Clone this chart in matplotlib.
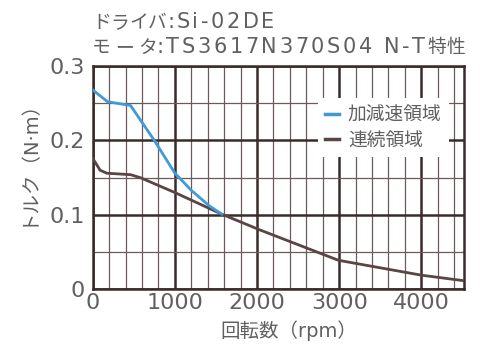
import matplotlib
matplotlib.use("Agg")
import matplotlib.pyplot as plt
from matplotlib.ticker import MultipleLocator
from matplotlib import ft2font
from matplotlib.font_manager import FontProperties, findfont

plt.rcParams['font.family'] = ['DejaVu Sans', 'Noto Sans CJK JP']

# Acceleration / deceleration region (rpm, N·m)
accel_rpm = [0, 180, 460, 750, 1000, 1200, 1420, 1570]
accel_torque = [0.268, 0.252, 0.247, 0.200, 0.156, 0.133, 0.112, 0.101]

# Continuous region (rpm, N·m)
cont_rpm = [0, 90, 170, 460, 580, 1000, 1570, 2030, 2990, 4000, 4520]
cont_torque = [0.176, 0.160, 0.156, 0.154, 0.150, 0.130, 0.101, 0.080, 0.039, 0.019, 0.0115]

x_ticks = [0, 1000, 2000, 3000, 4000]
y_ticks = [0, 0.1, 0.2, 0.3]
y_tick_labels = ["0", "0.1", "0.2", "0.3"]

series_labels = ["加減速領域", "連続領域"]
x_label = "回転数（rpm）"
y_label = "トルク（N·m）"

text_color = "#606060"
grid_color = "#3a2a2a"

W, H, DPI = 488, 345, 100
fig = plt.figure(figsize=(W / DPI, H / DPI), dpi=DPI)
ax = fig.add_axes([0.19, 0.1614, 0.761, 0.6473])

ax.plot(accel_rpm, accel_torque, color="#3f9ad8", lw=2.0, label=series_labels[0], zorder=4)
ax.plot(cont_rpm, cont_torque, color="#5a4444", lw=2.0, label=series_labels[1], zorder=3)

ax.set_xlim(0, 4520)
ax.set_ylim(0, 0.3)
ax.set_xticks(x_ticks)
ax.set_yticks(y_ticks)
ax.set_yticklabels(y_tick_labels)
ax.xaxis.set_minor_locator(MultipleLocator(200))
ax.yaxis.set_minor_locator(MultipleLocator(0.05))
ax.grid(which="major", color=grid_color, lw=1.8, zorder=1)
ax.grid(which="minor", color="#6a5a5a", lw=0.9, zorder=1)
ax.set_axisbelow(True)
ax.tick_params(which="both", length=0, labelsize=16, labelcolor=text_color)
ax.tick_params(axis="x", pad=3)
ax.tick_params(axis="y", pad=6)
for s in ax.spines.values():
    s.set_color(grid_color)
    s.set_linewidth(1.8)

# axis titles
fig.text(289 / W, 1 - 331 / H, x_label, fontsize=14, color=text_color,
         ha="center", va="center")
fig.text(27 / W, 1 - 157 / H, y_label, fontsize=14, color=text_color,
         ha="center", va="center", rotation=90)

# letter-spaced heading, laid out glyph by glyph
_flags = ft2font.LoadFlags.NO_HINTING if hasattr(ft2font, "LoadFlags") else ft2font.LOAD_NO_HINTING


def advance(prop, ch):
    f = ft2font.FT2Font(findfont(prop))
    f.set_size(prop.get_size_in_points(), DPI)
    g = f.load_char(ord(ch), flags=_flags)
    return g.linearHoriAdvance / 65536.0


def heading(x_px, baseline_px, runs):
    x = x_px
    for text, family, size, track in runs:
        prop = FontProperties(family=family, size=size)
        for ch in text:
            fig.text(x / W, 1 - baseline_px / H, ch, fontproperties=prop,
                     color=text_color, ha="left", va="baseline")
            x += advance(prop, ch) + track


heading(92, 28, [("ドライバ", "Noto Sans CJK JP", 13.5, 0.0),
                 (":Si-02DE", "DejaVu Sans", 15, 2.6)])
heading(92, 53, [("モ ー タ", "Noto Sans CJK JP", 13.5, 0.0),
                 (":TS3617N370S04 N-T", "DejaVu Sans", 15, 2.6),
                 ("特性", "Noto Sans CJK JP", 13.5, 0.0)])

leg = ax.legend(loc="upper right", bbox_to_anchor=(0.985, 0.9), frameon=True,
                handlelength=0.7, handletextpad=0.5, fontsize=13.5, labelspacing=0.35,
                borderpad=0.4)
leg.get_frame().set_facecolor("white")
leg.get_frame().set_edgecolor("none")
leg.get_frame().set_alpha(1)
for t in leg.get_texts():
    t.set_color(text_color)
for h in leg.get_lines():
    h.set_linewidth(2.5)

fig.savefig("out.png", dpi=DPI, facecolor="white")
